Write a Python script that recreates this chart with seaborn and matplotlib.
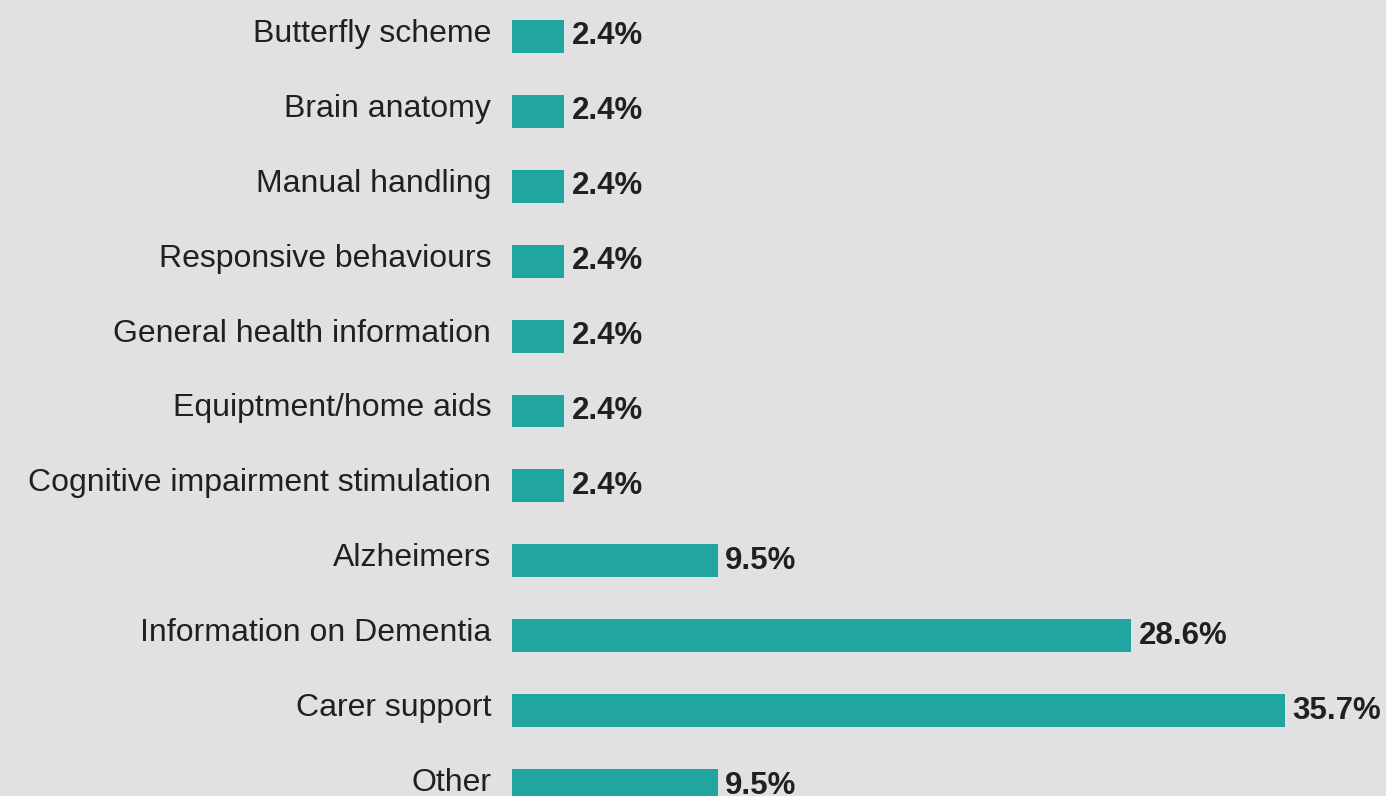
import matplotlib
matplotlib.use("Agg")
import matplotlib.pyplot as plt
import matplotlib.transforms as mtransforms
import seaborn as sns
import pandas as pd

topics = [
    "Butterfly scheme",
    "Brain anatomy",
    "Manual handling",
    "Responsive behaviours",
    "General health information",
    "Equiptment/home aids",
    "Cognitive impairment stimulation",
    "Alzheimers",
    "Information on Dementia",
    "Carer support",
    "Other",
]
shares = [2.4, 2.4, 2.4, 2.4, 2.4, 2.4, 2.4, 9.5, 28.6, 35.7, 9.5]

BG = "#e1e1e1"
BAR = "#21a5a1"
INK = "#231f20"

sns.set_theme(style="white")
plt.rcParams["font.family"] = ["Liberation Sans", "DejaVu Sans"]

df = pd.DataFrame({"topic": topics, "share": shares})

fig = plt.figure(figsize=(13.86, 7.96), dpi=100, facecolor=BG)
ax = fig.add_axes([512 / 1386, 0, 1 - 512 / 1386, 1])
ax.set_facecolor(BG)

sns.barplot(data=df, x="share", y="topic", orient="h", color=BAR,
            width=0.44, saturation=1, linewidth=0, ax=ax, order=topics)

ax.set_xlim(0, (1386 - 512) / 21.65)
ax.set_ylim(10.14, -0.487)

for c in ax.containers:
    ax.bar_label(c, labels=[f"{v:.1f}%" for v in shares], padding=5.5,
                 fontsize=22.5, fontweight="bold", color=INK)

ax.set_xlabel("")
ax.set_ylabel("")
ax.set_xticks([])
ax.tick_params(axis="y", length=0, pad=15, labelsize=23, labelcolor=INK)
shift = mtransforms.ScaledTranslation(0, 6 / 100, fig.dpi_scale_trans)
for lab in ax.get_yticklabels():
    lab.set_transform(lab.get_transform() + shift)
for s in ax.spines.values():
    s.set_visible(False)

fig.savefig("out.png", dpi=100, facecolor=BG)
